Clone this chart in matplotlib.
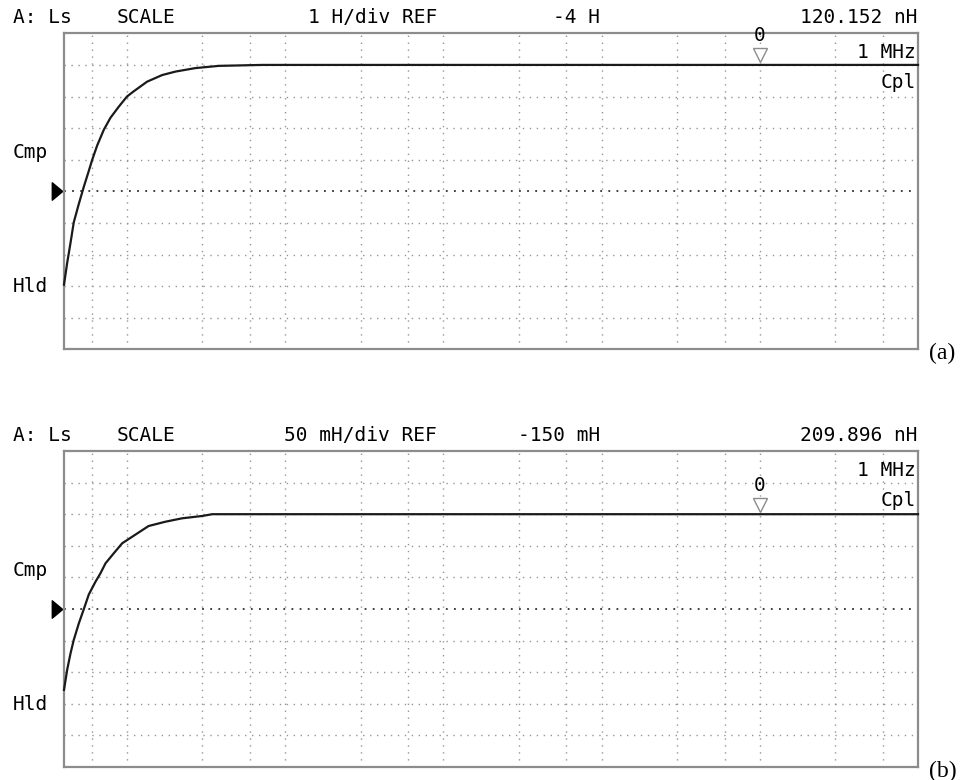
import numpy as np
import matplotlib.pyplot as plt
import matplotlib.transforms as mtransforms
from matplotlib.path import Path

## trace (a): Ls in H vs frequency in Hz
freq_a = [40, 41.9, 44.0, 46.1, 49.6, 53.4, 57.4, 60.3, 64.8, 71.4, 78.7, 88.8, 100, 110,
          134, 167, 203, 271, 381, 716, 1e3, 1e4, 1e5, 1e6, 1e7]
ls_a = [-6.95, -6.26, -5.62, -4.98, -4.40, -3.85, -3.35, -3.00, -2.55, -2.05, -1.67, -1.32,
        -1.00, -0.84, -0.53, -0.32, -0.21, -0.10, -0.03, 0.0, 0.0, 0.0, 0.0, 120.152e-9, 0.0]

## trace (b): Ls in mH vs frequency in Hz
freq_b = [40, 41.9, 44.0, 46.1, 49.6, 53.4, 57.4, 63.2, 68.0, 73.2, 82.5, 93.3, 108, 137,
          175, 223, 299, 346, 1e3, 1e4, 1e5, 1e6, 1e7]
ls_b_mh = [-278, -246, -220, -199, -173, -150, -127, -107, -93.5, -77.7, -61.9, -46, -35.6,
           -18.7, -11.9, -6.5, -2.8, 0.0, 0.0, 0.0, 0.0, 209.896e-6, 0.0]

scales = [1.0, 0.050]      # H/div
refs = [-4.0, -0.150]      # H at reference line
grid_freqs = [60, 100, 300, 600, 1e3, 3e3, 6e3, 1e4, 3e4, 6e4, 1e5, 3e5, 6e5, 1e6, 3e6, 6e6]
marker_freq = 1e6

headers = [
    ["A: Ls", "SCALE", "1 H/div REF", "-4 H", "120.152 nH"],
    ["A: Ls", "SCALE", "50 mH/div REF", "-150 mH", "209.896 nH"],
]
panel_labels = ["(a)", "(b)"]

W, H = 971, 780
fig = plt.figure(figsize=(W / 100, H / 100), dpi=100)

def fx(px):
    return px / W

def fy(py):
    return 1 - py / H

mono = "DejaVu Sans Mono"
fs = 14
gray = "#8c8c8c"

traces = [(freq_a, np.array(ls_a)), (freq_b, np.array(ls_b_mh) / 1000.0)]
tops = [33.3, 451.0]
bots = [349.5, 767.0]
left, right = 64, 918

for i in range(2):
    top, bot = tops[i], bots[i]
    ax = fig.add_axes([fx(left), fy(bot), (right - left) / W, (bot - top) / H])
    sc, ref = scales[i], refs[i]
    ax.set_xscale("log")
    ax.set_xlim(40, 1e7)
    ax.set_ylim(ref - 5 * sc, ref + 5 * sc)
    ax.set_xticks([])
    ax.set_yticks([])
    ax.minorticks_off()
    for s in ax.spines.values():
        s.set_color(gray)
        s.set_linewidth(1.6)

    ## dotted graticule
    for f in grid_freqs:
        ax.axvline(f, color="#959595", lw=1.0, ls=(0, (1, 4)), zorder=1)
    for k in range(-4, 5):
        if k == 0:
            ax.axhline(ref, color="#303030", lw=1.3, ls=(0, (1, 3.5)), zorder=1)
        else:
            ax.axhline(ref + k * sc, color="#959595", lw=1.0, ls=(0, (1, 4)), zorder=1)

    fr, vals = traces[i]
    ax.plot(fr, vals, color="#1a1a1a", lw=1.6, zorder=3, clip_on=False)

    ## marker 0 at 1 MHz
    mval = np.interp(np.log10(marker_freq), np.log10(fr), vals)
    tri_off = mtransforms.ScaledTranslation(0, 9.5 / 100, fig.dpi_scale_trans)
    ax.plot([marker_freq], [mval], marker="v", ms=10, mfc="white", mec="#8c8c8c",
            mew=1.0, transform=ax.transData + tri_off, zorder=4, clip_on=False)
    txt_off = mtransforms.ScaledTranslation(0, 29 / 100, fig.dpi_scale_trans)
    ax.text(marker_freq, mval, "0", family=mono, fontsize=fs, ha="center", va="center",
            transform=ax.transData + txt_off, zorder=5)

    ## reference arrow on the left
    arrow = Path([(-0.6, -1), (0.6, 0), (-0.6, 1), (-0.6, -1)],
                 [Path.MOVETO, Path.LINETO, Path.LINETO, Path.CLOSEPOLY])
    trans = mtransforms.blended_transform_factory(ax.transAxes, ax.transData)
    ax.plot([(57 - left) / (right - left)], [ref], marker=arrow, ms=12.5, color="black",
            transform=trans, clip_on=False)

    ## header line
    hy = fy(top - 15.5)
    h = headers[i]
    fig.text(fx(13), hy, h[0], family=mono, fontsize=fs, va="center", ha="left")
    fig.text(fx(117), hy, h[1], family=mono, fontsize=fs, va="center", ha="left")
    fig.text(fx(437), hy, h[2], family=mono, fontsize=fs, va="center", ha="right")
    fig.text(fx(600), hy, h[3], family=mono, fontsize=fs, va="center", ha="right")
    fig.text(fx(917), hy, h[4], family=mono, fontsize=fs, va="center", ha="right")

    ## side labels
    fig.text(fx(916), fy(top + 19), "1 MHz", family=mono, fontsize=fs, va="center", ha="right")
    fig.text(fx(916), fy(top + 49), "Cpl", family=mono, fontsize=fs, va="center", ha="right")
    fig.text(fx(13), fy(top + 119), "Cmp", family=mono, fontsize=fs, va="center", ha="left")
    fig.text(fx(13), fy(top + 253), "Hld", family=mono, fontsize=fs, va="center", ha="left")

    fig.text(fx(929), fy(bot + 4), panel_labels[i], family="Liberation Serif", fontsize=17,
             va="center", ha="left")

fig.savefig("out.png", dpi=100, facecolor="white")
